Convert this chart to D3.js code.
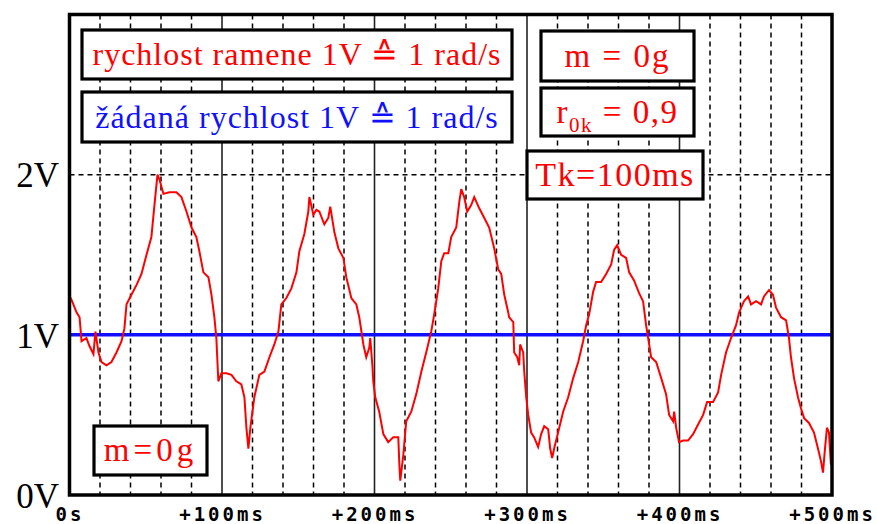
<!DOCTYPE html>
<html>
<head>
<meta charset="utf-8">
<script src="https://cdn.jsdelivr.net/npm/d3@7"></script>
<style>
  body { margin: 0; background: #fff; }
  svg { display: block; }
</style>
</head>
<body>
<div id="chart"></div>
<script>
// time of each sample [ms]
var timeMs = [0, 1.3, 4.6, 6.6, 7.9, 11.1, 13.1, 15.7, 17.0, 19.0, 21.0, 24.2, 27.5, 30.8, 34.1, 36.0, 37.4, 40.6, 43.9, 47.2,
  50.5, 53.7, 55.7, 57.7, 59.0, 61.6, 65.5, 70.1, 73.4, 76.7, 80.0, 83.2, 85.2, 87.8, 91.1, 93.1, 95.0, 96.3, 97.6, 99.6,
  102.9, 106.2, 109.4, 112.7, 114.7, 116.0, 117.3, 118.6, 121.2, 124.5, 127.8, 131.1, 134.3, 137.0, 138.9, 142.2, 145.5, 148.8, 150.7, 154.0,
  156.6, 157.3, 159.9, 161.9, 163.8, 167.1, 169.7, 171.0, 173.7, 176.3, 179.6, 181.5, 184.8, 188.1, 190.0, 192.7, 194.6, 196.6, 197.2, 198.6,
  199.2, 200.5, 203.1, 205.8, 209.0, 212.3, 215.6, 216.3, 216.9, 218.9, 220.8, 224.1, 227.4, 230.7, 233.9, 237.2, 239.2, 241.8, 243.8, 245.7,
  248.4, 250.3, 253.6, 255.6, 256.9, 258.8, 260.8, 263.4, 265.4, 268.7, 272.0, 275.2, 278.5, 281.1, 283.1, 285.1, 287.7, 288.3, 291.0, 291.6,
  293.6, 294.9, 295.5, 297.5, 298.2, 299.5, 300.8, 302.7, 304.7, 307.3, 309.3, 311.3, 313.9, 315.2, 316.5, 317.8, 320.4, 323.7, 327.0, 330.3,
  333.6, 336.8, 338.8, 340.8, 343.4, 345.3, 348.6, 351.9, 355.2, 357.1, 359.1, 361.7, 365.0, 367.0, 370.2, 373.5, 376.1, 378.1, 380.1, 381.4,
  384.7, 388.0, 391.2, 393.2, 395.8, 396.5, 397.8, 399.7, 402.4, 405.6, 408.9, 412.2, 415.5, 418.1, 422.0, 425.3, 427.3, 430.5, 433.8, 437.1,
  439.1, 442.3, 445.0, 446.9, 450.2, 453.5, 455.4, 458.7, 461.3, 463.3, 466.6, 469.9, 471.8, 473.1, 475.1, 477.7, 479.7, 481.7, 484.9, 488.2,
  490.8, 492.8, 494.1, 495.4, 496.7, 498.0, 499.3];

// measured arm speed [V]
var armVolts = [1.24, 1.22, 1.14, 1.11, 0.96, 0.98, 0.93, 0.88, 1.02, 0.89, 0.83, 0.81, 0.83, 0.89, 0.96, 1.04, 1.19, 1.25, 1.31, 1.38,
  1.50, 1.61, 1.81, 2.00, 1.97, 1.88, 1.89, 1.89, 1.86, 1.77, 1.67, 1.61, 1.52, 1.39, 1.36, 1.25, 1.11, 0.98, 0.71, 0.76,
  0.76, 0.75, 0.71, 0.69, 0.61, 0.42, 0.29, 0.42, 0.61, 0.75, 0.77, 0.86, 0.94, 1.02, 1.19, 1.23, 1.29, 1.39, 1.52, 1.63,
  1.77, 1.86, 1.75, 1.78, 1.77, 1.69, 1.73, 1.80, 1.64, 1.54, 1.48, 1.36, 1.23, 1.19, 1.11, 0.94, 0.86, 0.92, 0.98, 0.81,
  0.71, 0.61, 0.52, 0.38, 0.33, 0.36, 0.36, 0.19, 0.09, 0.25, 0.46, 0.52, 0.63, 0.77, 0.89, 1.02, 1.13, 1.29, 1.46, 1.51,
  1.51, 1.61, 1.67, 1.83, 1.91, 1.86, 1.77, 1.81, 1.86, 1.79, 1.73, 1.67, 1.54, 1.41, 1.38, 1.25, 1.14, 1.11, 1.08, 0.89,
  0.86, 0.81, 0.94, 0.89, 0.77, 0.61, 0.50, 0.39, 0.36, 0.30, 0.38, 0.43, 0.41, 0.29, 0.23, 0.29, 0.39, 0.52, 0.61, 0.73,
  0.83, 0.96, 1.06, 1.13, 1.27, 1.33, 1.33, 1.38, 1.44, 1.53, 1.56, 1.50, 1.48, 1.39, 1.34, 1.26, 1.21, 1.06, 0.94, 0.86,
  0.83, 0.73, 0.63, 0.50, 0.46, 0.52, 0.42, 0.33, 0.34, 0.34, 0.38, 0.44, 0.50, 0.58, 0.58, 0.64, 0.75, 0.89, 0.98, 1.06,
  1.14, 1.21, 1.24, 1.19, 1.21, 1.19, 1.24, 1.28, 1.25, 1.17, 1.11, 1.09, 0.98, 0.86, 0.73, 0.61, 0.54, 0.48, 0.45, 0.39,
  0.29, 0.21, 0.14, 0.29, 0.42, 0.39, 0.19];

var refVolts = 1;               // requested speed
var voltTicks = [0, 1, 2];
var timeTicks = [0, 100, 200, 300, 400, 500];

var legendArm = "rychlost ramene 1V \u2259 1 rad/s";
var legendRef = "\u017e\u00e1dan\u00e1 rychlost 1V \u2259 1 rad/s";

var width = 877, height = 524;
var x = d3.scaleLinear().domain([0, 500]).range([69.5, 832]);
var y = d3.scaleLinear().domain([0, 3]).range([495, 14.5]);

var svg = d3.select("#chart").append("svg")
    .attr("width", width)
    .attr("height", height)
    .style("background", "#fff");

var serif = "'Liberation Serif', 'Times New Roman', serif";

// minor dashed grid every 20 ms
var minor = d3.range(20, 500, 20).filter(function(d) { return d % 100 != 0; });
svg.append("g").selectAll("line")
    .data(minor)
    .enter().append("line")
    .attr("x1", function(d) { return x(d); })
    .attr("x2", function(d) { return x(d); })
    .attr("y1", y(3))
    .attr("y2", y(0))
    .attr("stroke", "#000")
    .attr("stroke-width", 1.5)
    .attr("stroke-dasharray", "5,4");

// horizontal dashed grid
svg.append("g").selectAll("line")
    .data([1, 2])
    .enter().append("line")
    .attr("x1", x(0))
    .attr("x2", x(500))
    .attr("y1", function(d) { return y(d); })
    .attr("y2", function(d) { return y(d); })
    .attr("stroke", "#000")
    .attr("stroke-width", 1.5)
    .attr("stroke-dasharray", "5,4");

// major solid lines every 100 ms
svg.append("g").selectAll("line")
    .data(timeTicks.slice(1, -1))
    .enter().append("line")
    .attr("x1", function(d) { return x(d); })
    .attr("x2", function(d) { return x(d); })
    .attr("y1", y(3))
    .attr("y2", y(0))
    .attr("stroke", "#222")
    .attr("stroke-width", 1.6);

// requested speed
svg.append("line")
    .attr("x1", x(0))
    .attr("x2", x(500))
    .attr("y1", y(refVolts))
    .attr("y2", y(refVolts))
    .attr("stroke", "#1010ff")
    .attr("stroke-width", 3.5);

// measured speed
var pts = timeMs.map(function(t, i) { return [t, armVolts[i]]; });
var line = d3.line()
    .x(function(d) { return x(d[0]); })
    .y(function(d) { return y(d[1]); });
svg.append("path")
    .datum(pts)
    .attr("d", line)
    .attr("fill", "none")
    .attr("stroke", "#ff0000")
    .attr("stroke-width", 2)
    .attr("stroke-linejoin", "miter");

// frame
svg.append("rect")
    .attr("x", x(0))
    .attr("y", y(3))
    .attr("width", x(500) - x(0))
    .attr("height", y(0) - y(3))
    .attr("fill", "none")
    .attr("stroke", "#000")
    .attr("stroke-width", 3.5);

// boxes with labels
function box(x0, y0, w, h, size, spacing) {
    svg.append("rect")
        .attr("x", x0).attr("y", y0)
        .attr("width", w).attr("height", h)
        .attr("fill", "#fff")
        .attr("stroke", "#000")
        .attr("stroke-width", 3.2);
    return svg.append("text")
        .attr("x", x0 + w / 2)
        .attr("y", y0 + h / 2 + size * 0.33)
        .attr("text-anchor", "middle")
        .style("font-family", serif)
        .style("font-size", size + "px")
        .style("letter-spacing", spacing + "px");
}

box(82, 30, 430, 49, 32, 1).attr("fill", "#ff0000").text(legendArm);
box(82, 92, 430, 50, 32, 1).attr("fill", "#1010ff").text(legendRef);
box(541, 31, 153, 50, 33, 2).attr("fill", "#ff0000").text("m = 0g");
var r = box(541, 88, 153, 48, 33, 1.5).attr("fill", "#ff0000");
r.append("tspan").text("r");
r.append("tspan").attr("dy", 9).style("font-size", "21px").text("0k");
r.append("tspan").attr("dy", -9).text(" = 0,9");
box(527, 151, 176, 48, 34, 1.5).attr("fill", "#ff0000").text("Tk=100ms");
box(94, 426, 113, 49, 33, 4).attr("fill", "#ff0000").text("m=0g");

// y axis labels
var yAxis = d3.axisLeft(y)
    .tickValues(voltTicks)
    .tickSize(0)
    .tickPadding(0)
    .tickFormat(function(d) { return d + "V"; });
var gy = svg.append("g")
    .attr("transform", "translate(59,0)")
    .call(yAxis);
gy.select(".domain").remove();
gy.selectAll("text")
    .attr("dy", "0.35em")
    .style("font-family", serif)
    .style("font-size", "35px")
    .attr("fill", "#000");

// x axis labels
var xAxis = d3.axisBottom(x)
    .tickValues(timeTicks)
    .tickSize(0)
    .tickPadding(0)
    .tickFormat(function(d) { return d == 0 ? "0s" : "+" + d + "ms"; });
var gx = svg.append("g")
    .attr("transform", "translate(0,507)")
    .call(xAxis);
gx.select(".domain").remove();
gx.selectAll("text")
    .attr("dy", "0.75em")
    .style("font-family", "'DejaVu Sans Mono', monospace")
    .style("font-weight", "bold")
    .style("font-size", "19px")
    .style("letter-spacing", "3px")
    .attr("fill", "#000");
</script>
</body>
</html>
